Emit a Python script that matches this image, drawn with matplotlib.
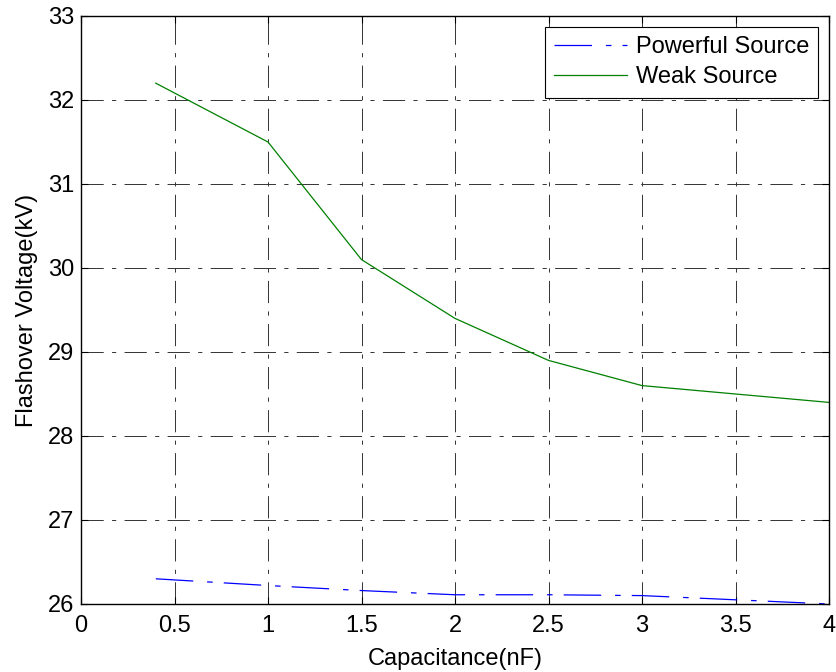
import numpy as np
import matplotlib
matplotlib.use("Agg")
import matplotlib.pyplot as plt

plt.rcParams['font.family'] = ['Liberation Sans', 'DejaVu Sans']
plt.rcParams['lines.scale_dashes'] = False

# capacitance (nF) and flashover voltage (kV)
cap = [0.4, 1.0, 1.5, 2.0, 2.5, 3.0, 3.5, 4.0]
v_powerful = [26.30, 26.22, 26.16, 26.11, 26.11, 26.10, 26.05, 26.00]
v_weak = [32.2, 31.5, 30.1, 29.4, 28.9, 28.6, 28.5, 28.4]

xticks = [0, 0.5, 1, 1.5, 2, 2.5, 3, 3.5, 4]
yticks = [26, 27, 28, 29, 30, 31, 32, 33]

fs = 17

fig = plt.figure(figsize=(8.36, 6.72), dpi=100)
ax = fig.add_axes([81/836, 1 - 604/672, (829-81)/836, (604-16)/672])

ax.plot(cap, v_powerful, color=(0, 0, 1), lw=0.9, linestyle=(0, (27, 10, 4, 8)),
        label='Powerful Source')
ax.plot(cap, v_weak, color=(0, 0.5, 0), lw=0.9, label='Weak Source')

ax.set_xlim(0, 4)
ax.set_ylim(26, 33)
ax.set_xticks(xticks)
ax.set_xticklabels([('%g' % t) for t in xticks])
ax.set_yticks(yticks)
ax.grid(True, color='0.2', lw=0.7, linestyle=(0, (16, 6, 3, 6)))
ax.tick_params(direction='in', length=5, width=0.8, top=True, right=True,
               labelsize=fs)
ax.tick_params(axis='x', pad=8)
ax.tick_params(axis='y', pad=5)
for s in ax.spines.values():
    s.set_linewidth(1.0)

ax.set_xlabel('Capacitance(nF)', fontsize=fs, labelpad=8)
ax.set_ylabel('Flashover Voltage(kV)', fontsize=fs, labelpad=7)

leg = ax.legend(loc='upper right', fontsize=fs, fancybox=False, framealpha=1,
                edgecolor='black', borderaxespad=0.45, handlelength=3.1,
                borderpad=0.4, labelspacing=0.35, handletextpad=0.35)
leg.get_frame().set_linewidth(0.8)

fig.savefig('out.png', dpi=100)
